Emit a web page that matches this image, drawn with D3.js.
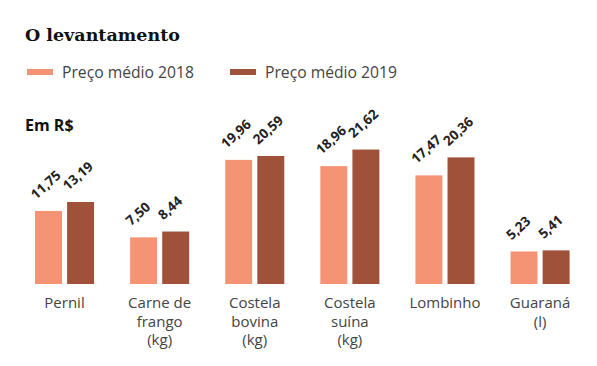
<!DOCTYPE html>
<html>
<head>
<meta charset="utf-8">
<script src="https://cdn.jsdelivr.net/npm/d3@7"></script>
<style>
  body { margin: 0; background: #fff; }
  text { font-family: "Open Sans", sans-serif; }
</style>
</head>
<body>
<div class="chart"></div>
<script>
const categories = [['Pernil'], ['Carne de', 'frango', '(kg)'], ['Costela', 'bovina', '(kg)'],
                    ['Costela', 'suína', '(kg)'], ['Lombinho'], ['Guaraná', '(l)']];
const seriesNames = ['Preço médio 2018', 'Preço médio 2019'];
const prices2018 = [11.75, 7.50, 19.96, 18.96, 17.47, 5.23];
const prices2019 = [13.19, 8.44, 20.59, 21.62, 20.36, 5.41];
const colors = ['#f49474', '#a0513a'];

const width = 597, height = 366;
const keys = categories.map(d => d.join(' '));
const data = keys.map((k, i) => ({key: k, lines: categories[i], values: [prices2018[i], prices2019[i]]}));

const svg = d3.select('.chart')
              .append('svg')
              .attr('width', width)
              .attr('height', height);

const xScale = d3.scaleBand()
                 .domain(keys)
                 .range([35, 569.6])
                 .paddingInner(0.379)
                 .paddingOuter(0);

const xInner = d3.scaleBand()
                 .domain([0, 1])
                 .range([0, xScale.bandwidth()])
                 .paddingInner(0.16);

const yScale = d3.scaleLinear()
                 .domain([0, 22])
                 .range([284, 147.2]);

// title + legend
svg.append('text')
   .attr('x', 25).attr('y', 41)
   .style('font-family', '"DejaVu Serif", serif')
   .attr('font-weight', 'bold')
   .attr('font-size', 17.5)
   .attr('fill', '#111')
   .text('O levantamento');

const legend = svg.selectAll('.legend')
                  .data(seriesNames)
                  .enter()
                  .append('g')
                  .attr('transform', (d, i) => `translate(${27 + i * 203}, 0)`);
legend.append('rect')
      .attr('x', 0).attr('y', 69)
      .attr('width', 26).attr('height', 6)
      .attr('fill', (d, i) => colors[i]);
legend.append('text')
      .attr('x', 35).attr('y', 78)
      .attr('font-size', 15.7)
      .attr('fill', '#444')
      .text(d => d);

svg.append('text')
   .attr('x', 25).attr('y', 131)
   .attr('font-size', 16)
   .attr('font-weight', 'bold')
   .attr('fill', '#111')
   .text('Em R$');

const groups = svg.selectAll('.group')
                  .data(data)
                  .enter()
                  .append('g')
                  .attr('transform', d => `translate(${xScale(d.key)}, 0)`);

groups.selectAll('rect')
      .data(d => d.values)
      .enter()
      .append('rect')
      .attr('x', (d, i) => xInner(i))
      .attr('y', d => yScale(d))
      .attr('width', xInner.bandwidth())
      .attr('height', d => yScale(0) - yScale(d))
      .attr('fill', (d, i) => colors[i]);

groups.selectAll('.val')
      .data(d => d.values)
      .enter()
      .append('text')
      .attr('transform', (d, i) => `translate(${xInner(i) + 1}, ${yScale(d) - 11}) rotate(-42)`)
      .attr('font-size', 13.5)
      .attr('font-weight', 'bold')
      .attr('fill', '#222')
      .text(d => d.toFixed(2).replace('.', ','));

groups.selectAll('.cat')
      .data(d => d.lines)
      .enter()
      .append('text')
      .attr('text-anchor', 'middle')
      .attr('font-size', 15)
      .attr('fill', '#444')
      .attr('x', xScale.bandwidth() / 2)
      .attr('y', (d, i) => 308 + i * 18.5)
      .text(d => d);
</script>
</body>
</html>
